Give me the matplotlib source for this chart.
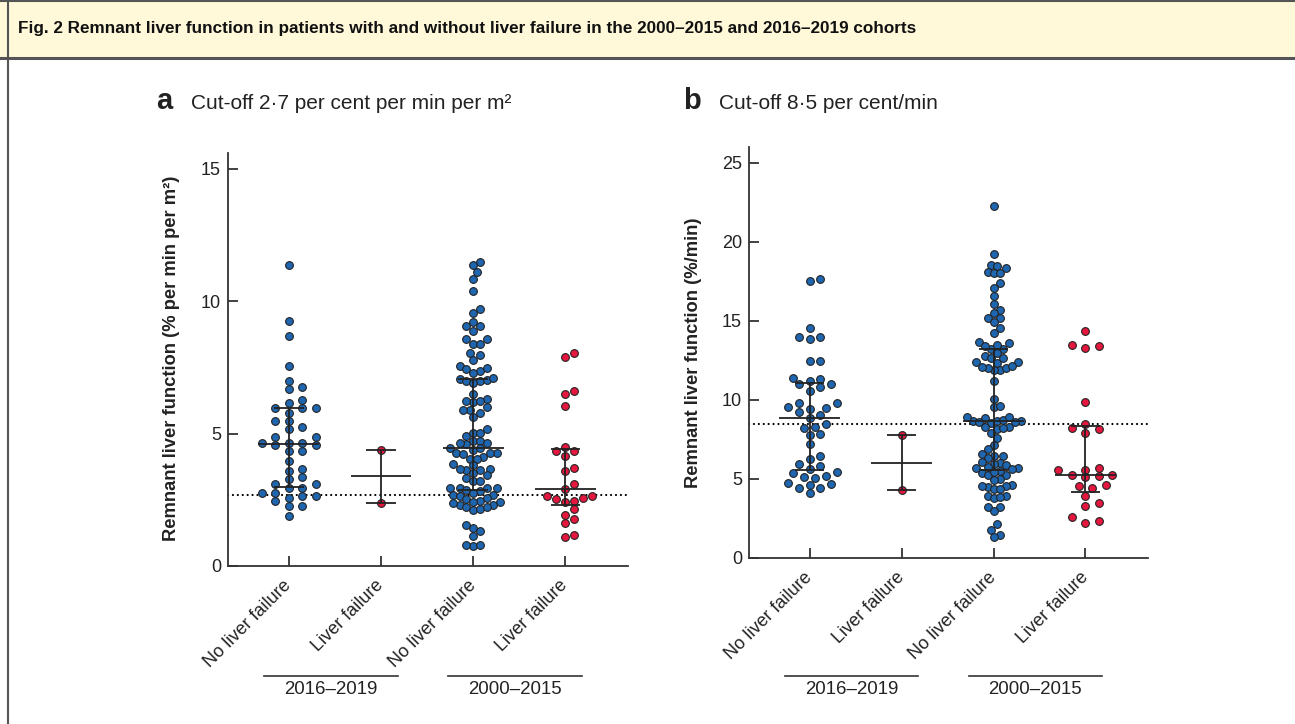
import numpy as np
import matplotlib.pyplot as plt
from matplotlib.patches import Rectangle
from matplotlib.lines import Line2D
from matplotlib.transforms import blended_transform_factory

plt.rcParams['font.family'] = ['Liberation Sans', 'DejaVu Sans']

title = ("Fig. 2 Remnant liver function in patients with and without liver failure "
         "in the 2000\u20132015 and 2016\u20132019 cohorts")
categories = ["No liver failure", "Liver failure", "No liver failure", "Liver failure"]
cohorts = ["2016\u20132019", "2000\u20132015"]

# panel a: remnant liver function, % per min per m2
a_new_nolf = [11.36, 9.27, 8.67, 7.56, 6.97, 6.67, 6.77, 6.27, 6.17, 5.97, 5.97, 5.97,
              5.78, 5.46, 5.46, 5.26, 5.16, 4.86, 4.86, 4.66, 4.66, 4.66, 4.56, 4.56,
              4.36, 4.36, 3.96, 3.57, 3.67, 3.37, 3.27, 3.10, 3.10, 2.96, 2.96, 2.76,
              2.76, 2.66, 2.66, 2.46, 2.56, 2.26, 2.26, 1.87]
a_new_lf = [4.40, 2.37]
a_old_nolf = [11.48, 11.37, 11.09, 10.84, 10.39, 9.70, 9.56, 9.23, 9.05, 9.05, 8.86,
              8.56, 8.56, 8.40, 8.40, 8.05, 7.98, 7.78, 7.55, 7.47, 7.36, 7.44, 7.30,
              7.06, 6.97, 6.97, 6.91, 7.02, 7.10, 6.50, 6.21, 6.29, 6.24, 6.24, 5.88,
              6.00, 5.77, 5.88, 5.62, 5.16, 4.92, 5.03, 5.03, 4.74, 4.74, 4.61, 4.65,
              4.65, 4.47, 4.40, 4.27, 4.27, 4.23, 4.27, 4.45, 4.13, 4.06, 4.06, 3.86,
              3.81, 3.62, 3.67, 3.62, 3.52, 3.67, 3.32, 3.42, 3.22, 3.22, 2.95, 2.95,
              2.95, 2.88, 2.93, 2.83, 2.68, 2.68, 2.75, 2.65, 2.53, 2.42, 2.45, 2.58,
              2.32, 2.37, 2.32, 2.42, 2.22, 2.10, 2.15, 2.22, 1.43, 1.53, 1.34, 1.12,
              0.74, 0.79, 0.79]
a_old_lf = [8.04, 7.89, 6.62, 6.48, 6.06, 4.51, 4.33, 4.33, 4.15, 3.72, 3.57, 3.10,
            2.90, 2.63, 2.53, 2.42, 2.47, 2.55, 2.65, 2.16, 1.92, 1.77, 1.62, 1.09, 1.18]

# panel b: remnant liver function, %/min
b_new_nolf = [17.52, 17.66, 14.51, 13.83, 13.98, 14.00, 12.44, 12.48, 11.39, 11.33,
              10.99, 10.84, 10.97, 11.16, 10.57, 9.41, 9.79, 9.20, 9.47, 9.56, 9.05,
              9.77, 8.82, 8.44, 8.27, 8.23, 7.83, 7.79, 7.18, 6.46, 6.25, 5.94, 5.83,
              5.62, 5.45, 5.37, 5.16, 5.14, 5.07, 4.74, 4.67, 4.61, 4.42, 4.42, 4.08]
b_new_lf = [7.75, 4.32]
b_old_nolf = [22.25, 19.22, 18.50, 18.46, 18.34, 18.06, 18.04, 18.04, 17.37, 17.05,
              16.57, 16.08, 15.68, 15.47, 15.14, 15.18, 14.91, 14.57, 14.25, 13.68,
              13.24, 13.24, 13.45, 13.41, 13.56, 12.97, 12.78, 12.67, 12.65, 12.36,
              12.40, 12.34, 11.89, 12.04, 12.13, 11.89, 12.00, 12.06, 11.16, 10.08,
              9.56, 9.62, 8.51, 8.67, 8.67, 8.67, 8.93, 8.84, 8.74, 8.93, 8.59, 8.59,
              8.15, 8.29, 8.29, 8.23, 7.89, 7.60, 7.14, 6.86, 6.55, 6.46, 6.46, 6.34,
              6.00, 6.04, 5.94, 5.85, 5.75, 5.68, 5.68, 5.62, 5.37, 5.24, 5.24, 5.52,
              5.45, 4.99, 4.93, 4.63, 4.51, 4.53, 4.53, 4.36, 4.36, 3.94, 3.94, 3.81,
              3.85, 3.22, 3.22, 2.99, 2.17, 1.77, 1.45, 1.33]
b_old_lf = [14.34, 13.41, 13.26, 13.49, 9.89, 8.46, 8.15, 7.92, 8.19, 5.68, 5.54, 5.56,
            5.24, 5.24, 5.09, 5.20, 4.40, 4.57, 4.63, 3.94, 3.47, 3.26, 2.57, 2.34, 2.21]

cutoff_a = 2.7
cutoff_b = 8.5

blue = "#1f66b0"
red = "#e5173f"
dark = "#333333"
group_colors = [blue, red, blue, red]

fig = plt.figure(figsize=(12.95, 7.24), dpi=100)

# header band
fig.patches.append(Rectangle((0, 1 - 57 / 724), 1, 57 / 724, transform=fig.transFigure,
                             facecolor="#fff9da", edgecolor="none", zorder=0))
fig.lines.append(Line2D([0, 1], [1 - 57.5 / 724] * 2, transform=fig.transFigure,
                        color="#555555", lw=2.2))
fig.lines.append(Line2D([0, 1], [1 - 0.8 / 724] * 2, transform=fig.transFigure,
                        color="#555555", lw=1.5))
fig.lines.append(Line2D([7.5 / 1295] * 2, [0, 1], transform=fig.transFigure,
                        color="#555555", lw=1.5))
fig.text(18 / 1295, 1 - 29 / 724, title, fontsize=12.3, fontweight="bold", va="center",
         color="#111111")


def swarm(ax, xc, vals, dot_px=7.4, half_px=27):
    vals = np.asarray(vals, float)
    pts = ax.transData.transform(np.column_stack([np.full(len(vals), xc), vals]))
    py = pts[:, 1]
    cands = [0.0] + [s * k / 2 for k in range(1, 60) for s in (1, -1)]
    cols = np.zeros(len(vals))
    placed = []
    for i in np.argsort(py):
        for c in cands:
            if all((c - pc) ** 2 + ((py[i] - pp) / dot_px) ** 2 >= 1 for pc, pp in placed):
                break
        cols[i] = c
        placed.append((c, py[i]))
    m = np.abs(cols).max()
    scale = half_px / m if m > 0 else 0
    xpx = pts[:, 0] + cols * scale
    return ax.transData.inverted().transform(np.column_stack([xpx, py]))[:, 0]


def panel(rect, groups, ylim, yticks, cutoff, ylabel, lab_xy, letter, head, head_x):
    ax = fig.add_axes(rect)
    ax.set_xlim(-0.66, 3.68)
    ax.set_ylim(*ylim)
    for i, vals in enumerate(groups):
        xs = swarm(ax, i, vals)
        ax.scatter(xs, vals, s=31, c=group_colors[i], edgecolors="#222222",
                   linewidths=0.8, zorder=3)
        med = np.median(vals)
        q1, q3 = np.percentile(vals, [25, 75], method="weibull")
        kw = dict(color="#222222", lw=1.3, zorder=4, solid_capstyle="butt")
        ax.plot([i - 0.33, i + 0.33], [med, med], **kw)
        ax.plot([i - 0.16, i + 0.16], [q1, q1], **kw)
        ax.plot([i - 0.16, i + 0.16], [q3, q3], **kw)
        ax.plot([i, i], [q1, q3], **kw)
    ax.axhline(cutoff, color="black", lw=1.6, ls=(0, (0.01, 2.2)),
               dash_capstyle="round", zorder=2)
    for s in ("top", "right"):
        ax.spines[s].set_visible(False)
    for s in ("left", "bottom"):
        ax.spines[s].set_color(dark)
        ax.spines[s].set_linewidth(1.3)
    ax.set_yticks(yticks)
    ax.set_xticks(range(len(categories)))
    ax.set_xticklabels(categories, rotation=45, ha="right", va="center",
                       rotation_mode="anchor")
    ax.tick_params(direction="in", length=7.5, width=1.3, color=dark,
                   labelsize=13, labelcolor="#222222")
    ax.tick_params(axis="x", pad=12)
    ax.tick_params(axis="y", pad=5)
    fig.text(lab_xy[0] / 1295, 1 - lab_xy[1] / 724, ylabel, rotation=90, ha="center",
             va="center", fontsize=13.2, fontweight="bold", color="#222222")
    fig.text(head_x[0] / 1295, 1 - 109 / 724, letter, fontsize=21, fontweight="bold",
             color="#222222")
    fig.text(head_x[1] / 1295, 1 - 109 / 724, head, fontsize=15, color="#222222")
    tr = blended_transform_factory(ax.transData, fig.transFigure)
    for k, name in enumerate(cohorts):
        x0, x1 = 2 * k - 0.27, 2 * k + 1.18
        ax.add_line(Line2D([x0, x1], [1 - 675.7 / 724] * 2, transform=tr, color=dark,
                           lw=1.2, clip_on=False))
        ax.text((x0 + x1) / 2, 1 - 690 / 724, name, transform=tr, ha="center",
                va="center", fontsize=13.4, color="#222222")
    return ax


panel([228 / 1295, 1 - 566 / 724, 400 / 1295, 413 / 724],
      [a_new_nolf, a_new_lf, a_old_nolf, a_old_lf], (0, 15.6), [0, 5, 10, 15], cutoff_a,
      "Remnant liver function (% per min per m\u00b2)", (172, 358), "a",
      "Cut-off 2\u00b77 per cent per min per m\u00b2", (156, 191))
panel([749 / 1295, 1 - 558 / 724, 399 / 1295, 411.3 / 724],
      [b_new_nolf, b_new_lf, b_old_nolf, b_old_lf], (0, 26), [0, 5, 10, 15, 20, 25],
      cutoff_b, "Remnant liver function (%/min)", (693, 353), "b",
      "Cut-off 8\u00b75 per cent/min", (683, 719))

fig.savefig("out.png", dpi=100)
